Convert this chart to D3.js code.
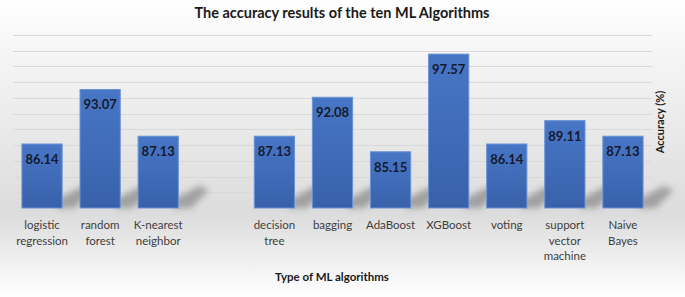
<!DOCTYPE html>
<html>
<head>
<meta charset="utf-8">
<script src="https://cdn.jsdelivr.net/npm/d3@7"></script>
<style>
  html, body { margin: 0; padding: 0; background: #fff; }
  svg { display: block; font-family: Lato, "Open Sans", sans-serif; }
</style>
</head>
<body>
<svg width="685" height="297"></svg>
<script>
// data ("" = empty gap slot)
const categories = ["logistic regression", "random forest", "K-nearest neighbor", "",
  "decision tree", "bagging", "AdaBoost", "XGBoost", "voting", "support vector machine", "Naive Bayes"];
const labelLines = [["logistic", "regression"], ["random", "forest"], ["K-nearest", "neighbor"], [],
  ["decision", "tree"], ["bagging"], ["AdaBoost"], ["XGBoost"], ["voting"], ["support", "vector", "machine"], ["Naive", "Bayes"]];
const accuracy = [86.14, 93.07, 87.13, null, 87.13, 92.08, 85.15, 97.57, 86.14, 89.11, 87.13];
const yTicks = [78, 80, 82, 84, 86, 88, 90, 92, 94, 96, 98, 100];

const svg = d3.select("svg");
const W = 685, H = 297;
const plot = {left: 13, right: 652, top: 35, bottom: 208};

// background gradient
const defs = svg.append("defs");
const bg = defs.append("linearGradient").attr("id", "bg").attr("x1", 0).attr("x2", 0).attr("y1", 0).attr("y2", 1);
bg.append("stop").attr("offset", "0%").attr("stop-color", "#ffffff");
bg.append("stop").attr("offset", "12%").attr("stop-color", "#f8f8f8");
bg.append("stop").attr("offset", "72%").attr("stop-color", "#dcdcdc");
bg.append("stop").attr("offset", "100%").attr("stop-color", "#ffffff");

const barGrad = defs.append("linearGradient").attr("id", "barGrad").attr("x1", 0).attr("x2", 0).attr("y1", 0).attr("y2", 1);
barGrad.append("stop").attr("offset", "0%").attr("stop-color", "#4776c6");
barGrad.append("stop").attr("offset", "100%").attr("stop-color", "#3961aa");

defs.append("filter").attr("id", "blur").attr("x", "-50%").attr("y", "-50%").attr("width", "200%").attr("height", "200%")
  .append("feGaussianBlur").attr("stdDeviation", 3);

svg.append("rect").attr("width", W).attr("height", H).attr("fill", "url(#bg)");

// scales
const x = d3.scaleBand().domain(d3.range(categories.length))
  .range([plot.left, plot.right]).paddingInner(0.29).paddingOuter(0.145);
const y = d3.scaleLinear().domain([78, 100]).range([plot.bottom, plot.top]);

// gridlines
svg.append("g").selectAll("line").data(yTicks.slice(1)).join("line")
  .attr("x1", plot.left).attr("x2", plot.right)
  .attr("y1", d => Math.round(y(d)) + 0.5).attr("y2", d => Math.round(y(d)) + 0.5)
  .attr("stroke", "#d9d9d9").attr("stroke-width", 1);

const data = accuracy.map((v, i) => ({i, v})).filter(d => d.v !== null);

// soft shadows at the foot of the bars
svg.append("g").attr("filter", "url(#blur)").selectAll("polygon").data(data).join("polygon")
  .attr("points", d => {
    const x1 = x(d.i) + x.bandwidth(), b = y(78);
    return [[x1 - 6, b], [x1 - 6, b - 8], [x1 + 20, b - 22], [x1 + 30, b - 18], [x1 + 12, b]].join(" ");
  })
  .attr("fill", "#777").attr("opacity", 0.6);

// bars
svg.append("g").selectAll("rect").data(data).join("rect")
  .attr("x", d => x(d.i) + 0.5).attr("width", x.bandwidth() - 1)
  .attr("y", d => y(d.v)).attr("height", d => y(78) - y(d.v))
  .attr("fill", "url(#barGrad)").attr("stroke", "#6b93d6").attr("stroke-width", 1);

// value labels
svg.append("g").selectAll("text").data(data).join("text")
  .attr("x", d => x(d.i) + x.bandwidth() / 2).attr("y", d => y(d.v) + 20)
  .attr("text-anchor", "middle").attr("font-size", 13).attr("font-weight", "bold")
  .attr("fill", "#151a2c").text(d => d.v.toFixed(2));

// category labels
const xl = svg.append("g").selectAll("text").data(labelLines.map((l, i) => ({l, i}))).join("text")
  .attr("text-anchor", "middle").attr("font-size", 11.5).attr("fill", "#404040");
xl.selectAll("tspan").data(d => d.l.map(t => ({t, i: d.i}))).join("tspan")
  .attr("x", d => x(d.i) + x.bandwidth() / 2)
  .attr("y", (d, k) => 229 + k * 15.5)
  .text(d => d.t);

// titles
svg.append("text").attr("x", 342).attr("y", 18).attr("text-anchor", "middle")
  .attr("font-size", 14.5).attr("font-weight", "bold").attr("fill", "#1a1a1a")
  .text("The accuracy results of the ten ML Algorithms");
svg.append("text").attr("x", 332).attr("y", 281).attr("text-anchor", "middle")
  .attr("font-size", 11.5).attr("font-weight", "bold").attr("fill", "#1a1a1a")
  .text("Type of ML algorithms");
svg.append("text").attr("transform", "translate(664,122) rotate(-90)").attr("text-anchor", "middle")
  .attr("font-size", 11).attr("font-weight", "bold").attr("fill", "#1a1a1a")
  .text("Accuracy (%)");
</script>
</body>
</html>
